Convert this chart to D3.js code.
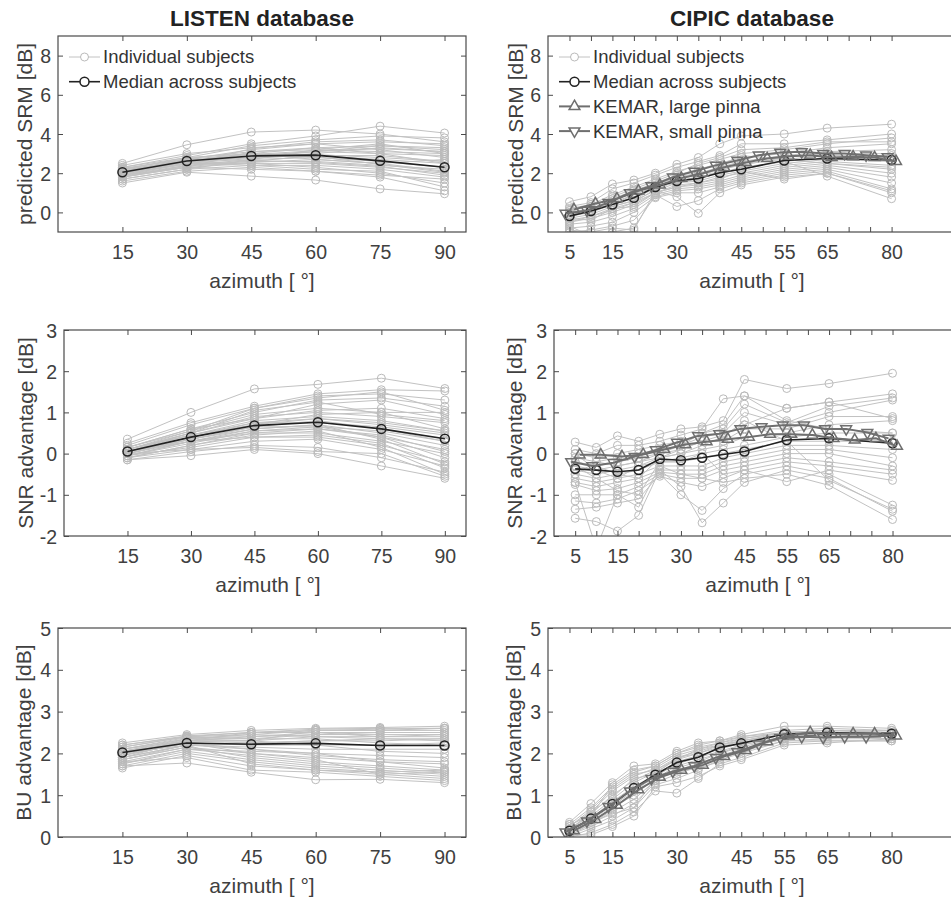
<!DOCTYPE html>
<html><head><meta charset="utf-8">
<script src="https://cdn.jsdelivr.net/npm/d3@7"></script>
<style>body{margin:0;background:#fff} svg{display:block;font-family:"Liberation Sans",Arial,Helvetica,sans-serif}</style>
</head><body><svg id="c" width="951" height="900"></svg>
<script>
// ---------------- DATA ----------------
const listenAz = [15, 30, 45, 60, 75, 90];
const cipicAz = [5, 10, 15, 20, 25, 30, 35, 40, 45, 55, 65, 80];
const kemarAz = [5, 10, 15, 20, 25, 30, 35, 40, 45, 50, 55, 60, 65, 70, 75, 80];

const listenXTicks = [15, 30, 45, 60, 75, 90];
const cipicXTicks = [5, 10, 15, 20, 25, 30, 35, 40, 45, 50, 55, 60, 65, 70, 75, 80];
const cipicXLabels = [5, 15, 30, 45, 55, 65, 80];
const srmYTicks = [0, 2, 4, 6, 8];
const snrYTicks = [-2, -1, 0, 1, 2, 3];
const buYTicks = [0, 1, 2, 3, 4, 5];

const titles = ["LISTEN database", "CIPIC database"];
const yLabels = ["predicted SRM [dB]", "SNR advantage [dB]", "BU advantage [dB]"];
const xLabel = "azimuth [ °]";
const legendLabels = ["Individual subjects", "Median across subjects", "KEMAR, large pinna", "KEMAR, small pinna"];

// LISTEN, predicted SRM
const listenSRM = [
 [2.5,3.45,4.1,4.2,4.0,3.6],[2.3,2.9,3.5,3.9,4.4,4.05],[2.2,2.8,3.4,3.7,3.9,3.8],[2.1,2.7,3.2,3.5,3.6,3.5],
 [2.0,2.6,3.0,3.3,3.4,3.2],[2.2,2.75,3.1,3.2,3.1,3.0],[1.9,2.5,2.9,3.1,3.0,2.9],[2.0,2.6,2.8,3.0,3.3,3.1],
 [2.1,2.7,3.0,2.9,2.7,2.5],[1.8,2.4,2.7,2.8,2.6,2.3],[2.0,2.5,2.6,2.6,2.4,2.2],[1.9,2.3,2.5,2.5,2.3,2.0],
 [1.7,2.2,2.4,2.4,2.2,1.8],[2.3,2.8,3.0,2.7,2.5,2.7],[1.6,2.1,2.3,2.1,1.9,1.7],[1.5,2.05,1.85,1.65,1.2,0.95],
 [1.8,2.3,2.2,2.1,1.8,1.1],[2.4,3.0,3.3,3.5,3.2,2.8],[1.9,2.4,2.6,2.9,2.9,2.6],[2.0,2.5,2.5,2.3,2.0,1.5],
 [2.2,2.6,2.8,3.1,3.4,3.3],[1.7,2.2,2.7,3.2,3.5,3.0],[2.1,2.5,2.4,2.2,2.1,1.3],[1.8,2.3,3.1,3.3,3.0,2.5],
 [2.0,2.5,2.75,2.95,2.8,2.6],[2.15,2.65,2.95,3.15,3.25,3.1],[1.85,2.35,2.55,2.7,2.5,2.1],[2.05,2.55,2.85,2.85,2.45,2.05],
 [1.95,2.45,3.25,3.6,3.7,3.4],[2.25,2.7,2.65,2.55,2.35,1.9]
];
const listenSRMMedian = [2.05, 2.62, 2.88, 2.92, 2.63, 2.3];

// LISTEN, SNR advantage
const listenSNR = [
 [0.35,1.0,1.57,1.68,1.83,1.58],[0.25,0.75,1.15,1.45,1.55,1.52],[0.2,0.7,1.1,1.4,1.45,1.3],[0.15,0.6,1.0,1.3,1.35,1.15],
 [0.1,0.55,0.95,1.1,1.0,1.0],[0.05,0.5,0.9,1.0,0.9,0.75],[0.1,0.45,0.8,0.9,0.8,0.55],[0.0,0.4,0.75,0.85,0.7,0.5],
 [0.05,0.35,0.65,0.8,0.6,0.3],[0.0,0.3,0.6,0.7,0.5,0.2],[-0.05,0.3,0.55,0.6,0.4,0.1],[-0.1,0.2,0.5,0.5,0.3,0.0],
 [-0.05,0.15,0.4,0.4,0.2,-0.2],[-0.1,0.1,0.3,0.35,0.1,-0.3],[-0.15,0.05,0.2,0.15,-0.1,-0.45],[-0.15,-0.05,0.1,0.0,-0.3,-0.6],
 [0.0,0.1,0.15,0.05,0.0,-0.55],[0.15,0.6,0.85,1.2,1.3,0.95],[0.05,0.4,0.7,0.95,1.0,0.6],[0.1,0.5,1.05,1.25,0.95,0.8],
 [-0.05,0.25,0.55,0.65,0.55,0.3],[0.0,0.35,0.6,0.7,0.35,-0.25],[0.1,0.45,0.75,0.75,0.65,0.45],[-0.1,0.2,0.45,0.55,0.15,-0.5],
 [0.05,0.45,0.7,0.85,0.75,0.55],[0.1,0.5,0.85,1.05,1.1,0.85],[-0.05,0.3,0.5,0.6,0.45,0.05],[0.0,0.35,0.65,0.65,0.4,-0.1],
 [0.15,0.55,1.1,1.35,1.5,1.05],[0.05,0.3,0.4,0.45,0.25,-0.35]
];
const listenSNRMedian = [0.05, 0.4, 0.68, 0.76, 0.6, 0.36];

// LISTEN, BU advantage
const listenBU = [
 [2.25,2.45,2.55,2.6,2.62,2.65],[2.2,2.42,2.5,2.58,2.6,2.6],[2.15,2.4,2.45,2.55,2.55,2.55],[2.1,2.38,2.4,2.5,2.5,2.5],
 [2.05,2.35,2.35,2.45,2.45,2.45],[2.0,2.3,2.3,2.4,2.4,2.4],[2.1,2.3,2.25,2.3,2.3,2.35],[1.95,2.25,2.2,2.2,2.2,2.25],
 [2.0,2.2,2.15,2.1,2.1,2.1],[1.9,2.2,2.1,2.0,1.95,1.9],[1.85,2.15,2.0,1.9,1.8,1.75],[1.8,2.1,1.95,1.8,1.7,1.6],
 [1.75,2.05,1.85,1.7,1.6,1.5],[1.7,2.0,1.8,1.65,1.55,1.45],[1.65,1.95,1.7,1.6,1.5,1.4],[1.7,1.77,1.55,1.37,1.38,1.3],
 [1.8,1.9,1.6,1.55,1.45,1.35],[2.2,2.4,2.35,2.35,2.25,2.2],[1.9,2.3,2.3,2.55,2.58,2.6],[2.05,2.25,2.0,1.85,1.5,1.55],
 [1.95,2.35,2.45,2.4,2.35,2.3],[1.85,2.2,1.75,1.6,1.55,1.6],[2.0,2.3,2.5,2.5,2.4,2.45],[1.75,2.1,2.05,2.0,1.8,1.65],
 [2.05,2.3,2.4,2.45,2.5,2.5],[2.1,2.35,2.3,2.2,2.05,2.0],[1.9,2.2,2.25,2.3,2.35,2.35],[1.85,2.15,1.9,1.75,1.65,1.55],
 [2.15,2.4,2.5,2.55,2.55,2.6],[1.95,2.25,2.1,1.95,1.85,1.8]
];
const listenBUMedian = [2.02, 2.25, 2.22, 2.24, 2.19, 2.19];

// CIPIC, predicted SRM
const cipicSRM = [
 [0.55,0.8,1.45,1.65,2.0,2.45,2.8,3.5,3.9,4.0,4.3,4.5],[0.3,0.5,1.2,1.5,1.9,2.3,2.6,2.9,3.5,3.5,3.7,4.0],
 [0.2,0.4,0.9,1.3,1.7,2.1,2.4,2.7,3.0,3.2,3.5,3.8],[0.1,0.3,0.7,1.1,1.5,1.9,2.2,2.5,2.8,3.0,3.3,3.5],
 [0.0,0.2,0.6,1.0,1.4,1.8,2.0,2.3,2.6,2.9,3.1,3.2],[-0.1,0.1,0.5,0.9,1.3,1.7,1.9,2.2,2.4,2.8,3.0,3.0],
 [-0.2,0.0,0.4,0.8,1.2,1.6,1.8,2.0,2.2,2.6,2.8,2.8],[-0.3,-0.1,0.3,0.6,1.1,1.5,1.6,1.9,2.1,2.5,2.7,2.6],
 [-0.4,-0.2,0.2,0.5,1.0,1.4,1.5,1.8,2.0,2.4,2.6,2.4],[-0.5,-0.3,0.0,0.4,1.0,1.3,1.4,1.6,1.9,2.3,2.5,2.2],
 [-0.6,-0.5,-0.2,0.2,0.9,1.2,1.3,1.5,1.8,2.2,2.4,2.0],[-0.8,-0.7,-0.5,0.0,0.8,1.1,1.2,1.4,1.7,2.1,2.3,1.8],
 [-1.0,-0.9,-0.7,-0.4,0.75,1.0,1.0,1.3,1.6,2.0,2.2,1.5],[-0.7,-1.2,-1.0,-0.8,0.9,0.3,0.6,1.2,1.5,1.9,2.1,1.2],
 [-0.9,-1.0,-0.8,-0.9,1.1,0.8,-0.05,1.0,1.4,1.8,2.0,1.1],[0.1,0.0,0.8,1.2,1.6,2.0,2.5,2.8,3.2,3.3,3.6,3.6],
 [-0.2,0.3,0.3,0.6,1.3,1.5,1.7,2.1,2.5,2.7,2.9,2.9],[-0.5,-0.2,0.1,0.5,1.2,1.6,1.8,2.4,2.9,2.7,2.5,2.3],
 [0.0,0.1,0.4,0.9,1.5,1.7,2.0,2.0,2.3,2.6,1.85,0.7],[-0.3,-0.4,0.2,0.3,1.0,1.3,1.5,1.7,2.1,1.7,2.0,1.0]
];
const cipicSRMMedian = [-0.19, 0.07, 0.4, 0.75, 1.3, 1.6, 1.73, 2.02, 2.2, 2.65, 2.75, 2.67];
const kemarLargeSRM = [0.15, 0.45, 0.7, 1.1, 1.4, 1.75, 2.0, 2.3, 2.55, 2.75, 2.87, 2.92, 2.8, 2.84, 2.8, 2.6];
const kemarSmallSRM = [-0.05, 0.1, 0.5, 1.0, 1.35, 1.8, 2.1, 2.4, 2.65, 2.92, 3.06, 3.09, 3.0, 3.0, 2.92, 2.84];

// CIPIC, SNR advantage
const cipicSNR = [
 [0.28,0.15,0.43,0.3,0.47,0.6,0.65,0.8,1.8,1.58,1.7,1.95],[0.1,0.0,0.2,0.2,0.3,0.45,0.6,1.33,1.4,1.1,1.25,1.45],
 [0.0,-0.1,0.0,0.1,0.2,0.3,0.5,0.6,1.2,0.75,1.15,1.35],[-0.1,-0.2,-0.1,0.0,0.1,0.2,0.4,0.5,1.0,0.7,1.0,1.3],
 [-0.2,-0.3,-0.2,-0.1,0.0,0.1,0.3,0.3,0.6,0.6,0.9,0.9],[-0.3,-0.4,-0.3,-0.2,-0.1,0.0,0.1,0.2,0.4,0.5,0.7,0.8],
 [-0.4,-0.5,-0.4,-0.3,-0.2,-0.1,0.0,0.1,0.2,0.4,0.5,0.5],[-0.5,-0.6,-0.5,-0.4,-0.2,-0.2,-0.1,0.0,0.1,0.3,0.3,0.3],
 [-0.6,-0.7,-0.6,-0.5,-0.3,-0.3,-0.3,-0.1,0.0,0.2,0.2,0.1],[-0.7,-0.8,-0.7,-0.6,-0.4,-0.4,-0.4,-0.2,-0.1,0.1,0.1,-0.1],
 [-0.75,-0.9,-0.85,-0.7,-0.45,-0.5,-0.5,-0.3,-0.2,0.0,0.0,-0.3],[-1.0,-1.0,-1.0,-0.8,-0.5,-0.6,-0.6,-0.4,-0.3,-0.1,-0.2,-0.4],
 [-1.15,-1.2,-1.1,-0.9,-0.55,-0.7,-0.8,-0.6,-0.4,-0.2,-0.3,-0.5],[-1.35,-1.3,-1.2,-1.1,-0.5,-1.0,-1.38,-0.85,-0.5,-0.3,-0.5,-1.25],
 [-1.57,-1.65,-1.88,-1.5,-0.4,-0.8,-1.68,-1.2,-0.7,-0.4,-0.6,-1.4],[-0.7,-2.3,-1.0,-1.3,-0.3,-0.5,-0.6,-0.7,-0.6,-0.5,-0.77,-1.6],
 [-0.5,-0.2,-0.3,-0.2,0.0,0.2,0.5,0.7,1.4,0.8,0.6,0.5],[0.0,-0.4,-0.6,-0.3,-0.1,0.0,0.2,0.4,0.8,0.3,-0.65,-1.35],
 [-0.3,-0.6,-0.9,-1.0,-0.2,-0.2,0.0,-0.5,-0.4,-0.68,-0.4,-0.65],[-0.2,-0.3,-0.5,-0.6,-0.1,0.1,0.3,0.45,0.7,1.1,1.25,0.85]
];
const cipicSNRMedian = [-0.37, -0.4, -0.44, -0.4, -0.13, -0.16, -0.1, -0.02, 0.05, 0.33, 0.37, 0.25];
const kemarLargeSNR = [-0.03, -0.03, -0.07, -0.02, 0.1, 0.22, 0.29, 0.35, 0.4, 0.47, 0.47, 0.45, 0.37, 0.33, 0.37, 0.18];
const kemarSmallSNR = [-0.2, -0.3, -0.22, -0.07, 0.09, 0.27, 0.43, 0.48, 0.6, 0.65, 0.69, 0.69, 0.6, 0.6, 0.51, 0.37];

// CIPIC, BU advantage
const cipicBU = [
 [0.35,0.8,1.3,1.7,1.75,2.05,2.25,2.3,2.45,2.65,2.65,2.6],[0.3,0.7,1.2,1.55,1.7,2.0,2.2,2.3,2.4,2.55,2.6,2.55],
 [0.25,0.6,1.1,1.45,1.65,1.95,2.1,2.25,2.35,2.5,2.55,2.5],[0.2,0.55,1.0,1.35,1.6,1.9,2.05,2.2,2.3,2.5,2.5,2.5],
 [0.2,0.5,0.9,1.3,1.55,1.85,2.0,2.15,2.3,2.45,2.5,2.45],[0.15,0.45,0.85,1.2,1.5,1.8,1.95,2.1,2.25,2.45,2.45,2.45],
 [0.1,0.4,0.75,1.1,1.45,1.75,1.9,2.05,2.2,2.4,2.45,2.4],[0.1,0.35,0.7,1.0,1.4,1.7,1.85,2.0,2.15,2.4,2.4,2.4],
 [0.05,0.3,0.6,0.9,1.35,1.6,1.75,1.95,2.1,2.35,2.4,2.35],[0.05,0.25,0.5,0.8,1.3,1.5,1.7,1.9,2.05,2.3,2.35,2.35],
 [0.0,0.2,0.4,0.7,1.25,1.4,1.6,1.85,2.0,2.3,2.3,2.3],[0.0,0.1,0.3,0.6,1.1,1.05,1.4,1.75,1.9,2.25,2.3,2.3],
 [0.05,0.05,0.25,0.5,1.2,1.3,1.45,1.7,1.85,2.2,2.25,2.35],[0.3,0.5,1.25,1.6,1.7,2.0,2.15,2.25,2.4,2.5,2.55,2.55],
 [0.15,0.6,0.95,1.4,1.5,1.9,2.0,2.2,2.3,2.45,2.5,2.5],[0.1,0.3,0.65,1.25,1.35,1.65,1.8,2.0,2.2,2.4,2.45,2.4],
 [0.2,0.35,0.55,0.7,1.4,1.55,1.65,1.8,2.1,2.35,2.4,2.45],[0.25,0.65,1.15,1.5,1.6,1.85,2.1,2.2,2.35,2.5,2.55,2.5]
];
const cipicBUMedian = [0.15, 0.44, 0.79, 1.17, 1.49, 1.78, 1.91, 2.14, 2.24, 2.46, 2.5, 2.47];
const kemarLargeBU = [0.15, 0.42, 0.76, 1.13, 1.43, 1.6, 1.72, 1.93, 2.07, 2.28, 2.42, 2.5, 2.47, 2.47, 2.47, 2.42];
const kemarSmallBU = [0.12, 0.38, 0.73, 1.1, 1.4, 1.57, 1.7, 1.9, 2.04, 2.22, 2.38, 2.4, 2.38, 2.4, 2.4, 2.42];

// ---------------- LAYOUT / STYLE ----------------
const svg = d3.select("#c");
const TXT = "#404040", AX = "#4a4a4a";
const GRAY_LINE = "#c2c2c2", GRAY_MK = "#bababa", MED = "#222", KEM = "#6f6f6f";
const FONT = '"Liberation Sans",Arial,sans-serif';

const rows = [
  {top: 36, bottom: 232, yDomain: [-1, 9], yTicks: srmYTicks, ylabel: yLabels[0], legend: true,
   left: {x0: 58, subj: listenSRM, med: listenSRMMedian, ylx: 32},
   right: {x0: 548, subj: cipicSRM, med: cipicSRMMedian, kl: kemarLargeSRM, ks: kemarSmallSRM, ylx: 523}},
  {top: 330, bottom: 536, yDomain: [-2, 3], yTicks: snrYTicks, ylabel: yLabels[1], legend: false,
   left: {x0: 64, subj: listenSNR, med: listenSNRMedian, ylx: 33},
   right: {x0: 554, subj: cipicSNR, med: cipicSNRMedian, kl: kemarLargeSNR, ks: kemarSmallSNR, ylx: 522}},
  {top: 628, bottom: 837, yDomain: [0, 5], yTicks: buYTicks, ylabel: yLabels[2], legend: false,
   left: {x0: 58, subj: listenBU, med: listenBUMedian, ylx: 31},
   right: {x0: 548, subj: cipicBU, med: cipicBUMedian, kl: kemarLargeBU, ks: kemarSmallBU, ylx: 521}}
];

const triUp = d3.symbol(d3.symbolTriangle, 50)();
let clipId = 0;

function drawPanel(row, p, isCipic, ri) {
  const w = (ri === 1) ? 402 : 408;
  const x = d3.scaleLinear().domain([0, 95]).range([p.x0, p.x0 + w]);
  const y = d3.scaleLinear().domain(row.yDomain).range([row.bottom, row.top]);
  const g = svg.append("g");
  const id = "clip" + (clipId++);
  svg.append("clipPath").attr("id", id).append("rect")
    .attr("x", p.x0).attr("y", row.top).attr("width", w).attr("height", row.bottom - row.top);

  const az = isCipic ? cipicAz : listenAz;
  const xt = isCipic ? cipicXTicks : listenXTicks;

  // data
  const dg = g.append("g").attr("clip-path", `url(#${id})`);
  const line = d3.line().x((d, i) => x(az[i])).y(d => y(d));
  p.subj.forEach(s => {
    dg.append("path").attr("d", line(s)).attr("fill", "none").attr("stroke", GRAY_LINE).attr("stroke-width", 1);
    dg.selectAll(null).data(s).enter().append("circle")
      .attr("cx", (d, i) => x(az[i])).attr("cy", d => y(d)).attr("r", 4)
      .attr("fill", "none").attr("stroke", GRAY_MK).attr("stroke-width", 1);
  });
  // median
  dg.append("path").attr("d", line(p.med)).attr("fill", "none").attr("stroke", MED).attr("stroke-width", 1.6);
  dg.selectAll(null).data(p.med).enter().append("circle")
    .attr("cx", (d, i) => x(az[i])).attr("cy", d => y(d)).attr("r", 4.5)
    .attr("fill", "none").attr("stroke", MED).attr("stroke-width", 1.5);
  if (isCipic) {
    const drawK = (vals, dx, rot) => {
      const kl = d3.line().x((d, i) => x(kemarAz[i]) + dx).y(d => y(d));
      dg.append("path").attr("d", kl(vals)).attr("fill", "none").attr("stroke", KEM).attr("stroke-width", 2);
      dg.selectAll(null).data(vals).enter().append("path").attr("d", triUp)
        .attr("transform", (d, i) => `translate(${x(kemarAz[i]) + dx},${y(d)}) rotate(${rot})`)
        .attr("fill", "none").attr("stroke", KEM).attr("stroke-width", 1.5);
    };
    drawK(p.kl, 4.5, 0);
    drawK(p.ks, -4, 180);
  }

  // box
  g.append("rect").attr("x", p.x0).attr("y", row.top).attr("width", w).attr("height", row.bottom - row.top)
    .attr("fill", "none").attr("stroke", AX).attr("stroke-width", 1.2);

  // axes
  const fmtX = isCipic ? (d => cipicXLabels.includes(d) ? d : "") : (d => d);
  const ax = g.append("g").attr("transform", `translate(0,${row.bottom})`)
    .call(d3.axisBottom(x).tickValues(xt).tickFormat(fmtX).tickSizeInner(-5).tickSizeOuter(0).tickPadding(13));
  const axT = g.append("g").attr("transform", `translate(0,${row.top})`)
    .call(d3.axisTop(x).tickValues(xt).tickFormat("").tickSizeInner(-5).tickSizeOuter(0));
  const ay = g.append("g").attr("transform", `translate(${p.x0},0)`)
    .call(d3.axisLeft(y).tickValues(row.yTicks).tickFormat(d => String(d)).tickSizeInner(-5).tickSizeOuter(0).tickPadding(7));
  const ayR = g.append("g").attr("transform", `translate(${p.x0 + w},0)`)
    .call(d3.axisRight(y).tickValues(row.yTicks).tickFormat("").tickSizeInner(-5).tickSizeOuter(0));
  [ax, axT, ay, ayR].forEach(a => {
    a.select(".domain").remove();
    a.selectAll(".tick line").attr("stroke", AX).attr("stroke-width", 1);
    a.selectAll(".tick text").attr("fill", TXT).style("font-size", "19.5px").style("font-family", FONT);
  });
  ay.selectAll(".tick text").attr("dy", "0.36em");

  // labels
  const cx = p.x0 + 408 / 2;
  g.append("text").attr("x", cx).attr("y", row.bottom + 56).attr("text-anchor", "middle")
    .attr("fill", TXT).style("font-size", "21px").text(xLabel);
  const cy = (row.top + row.bottom) / 2;
  g.append("text").attr("transform", `translate(${p.ylx},${cy}) rotate(-90)`).attr("text-anchor", "middle")
    .attr("fill", TXT).style("font-size", "21px").text(row.ylabel);

  if (ri === 0) {
    g.append("text").attr("x", cx).attr("y", 26).attr("text-anchor", "middle")
      .attr("fill", "#222").style("font-size", "22.5px").style("font-weight", "bold").text(titles[isCipic ? 1 : 0]);
  }

  // legend
  if (row.legend) {
    const n = isCipic ? 4 : 2;
    const lx0 = p.x0 + 11, lx1 = p.x0 + 42;
    for (let k = 0; k < n; k++) {
      const ly = 57 + k * 24.7;
      const col = k === 0 ? GRAY_LINE : (k === 1 ? MED : KEM);
      g.append("line").attr("x1", lx0).attr("x2", lx1).attr("y1", ly).attr("y2", ly)
        .attr("stroke", col).attr("stroke-width", k === 0 ? 1 : (k === 1 ? 1.6 : 2));
      const mx = (lx0 + lx1) / 2;
      if (k < 2) {
        g.append("circle").attr("cx", mx).attr("cy", ly).attr("r", k === 0 ? 4 : 4.5).attr("fill", "#fff")
          .attr("stroke", k === 0 ? GRAY_MK : MED).attr("stroke-width", k === 0 ? 1 : 1.5);
      } else {
        g.append("path").attr("d", triUp).attr("transform", `translate(${mx},${ly}) rotate(${k === 2 ? 0 : 180})`)
          .attr("fill", "#fff").attr("stroke", KEM).attr("stroke-width", 1.5);
      }
      g.append("text").attr("x", lx1 + 3).attr("y", ly).attr("dy", "0.35em")
        .attr("fill", "#333").style("font-size", "18.5px").text(legendLabels[k]);
    }
  }
}

rows.forEach((row, ri) => {
  drawPanel(row, row.left, false, ri);
  drawPanel(row, row.right, true, ri);
});
</script></body></html>
